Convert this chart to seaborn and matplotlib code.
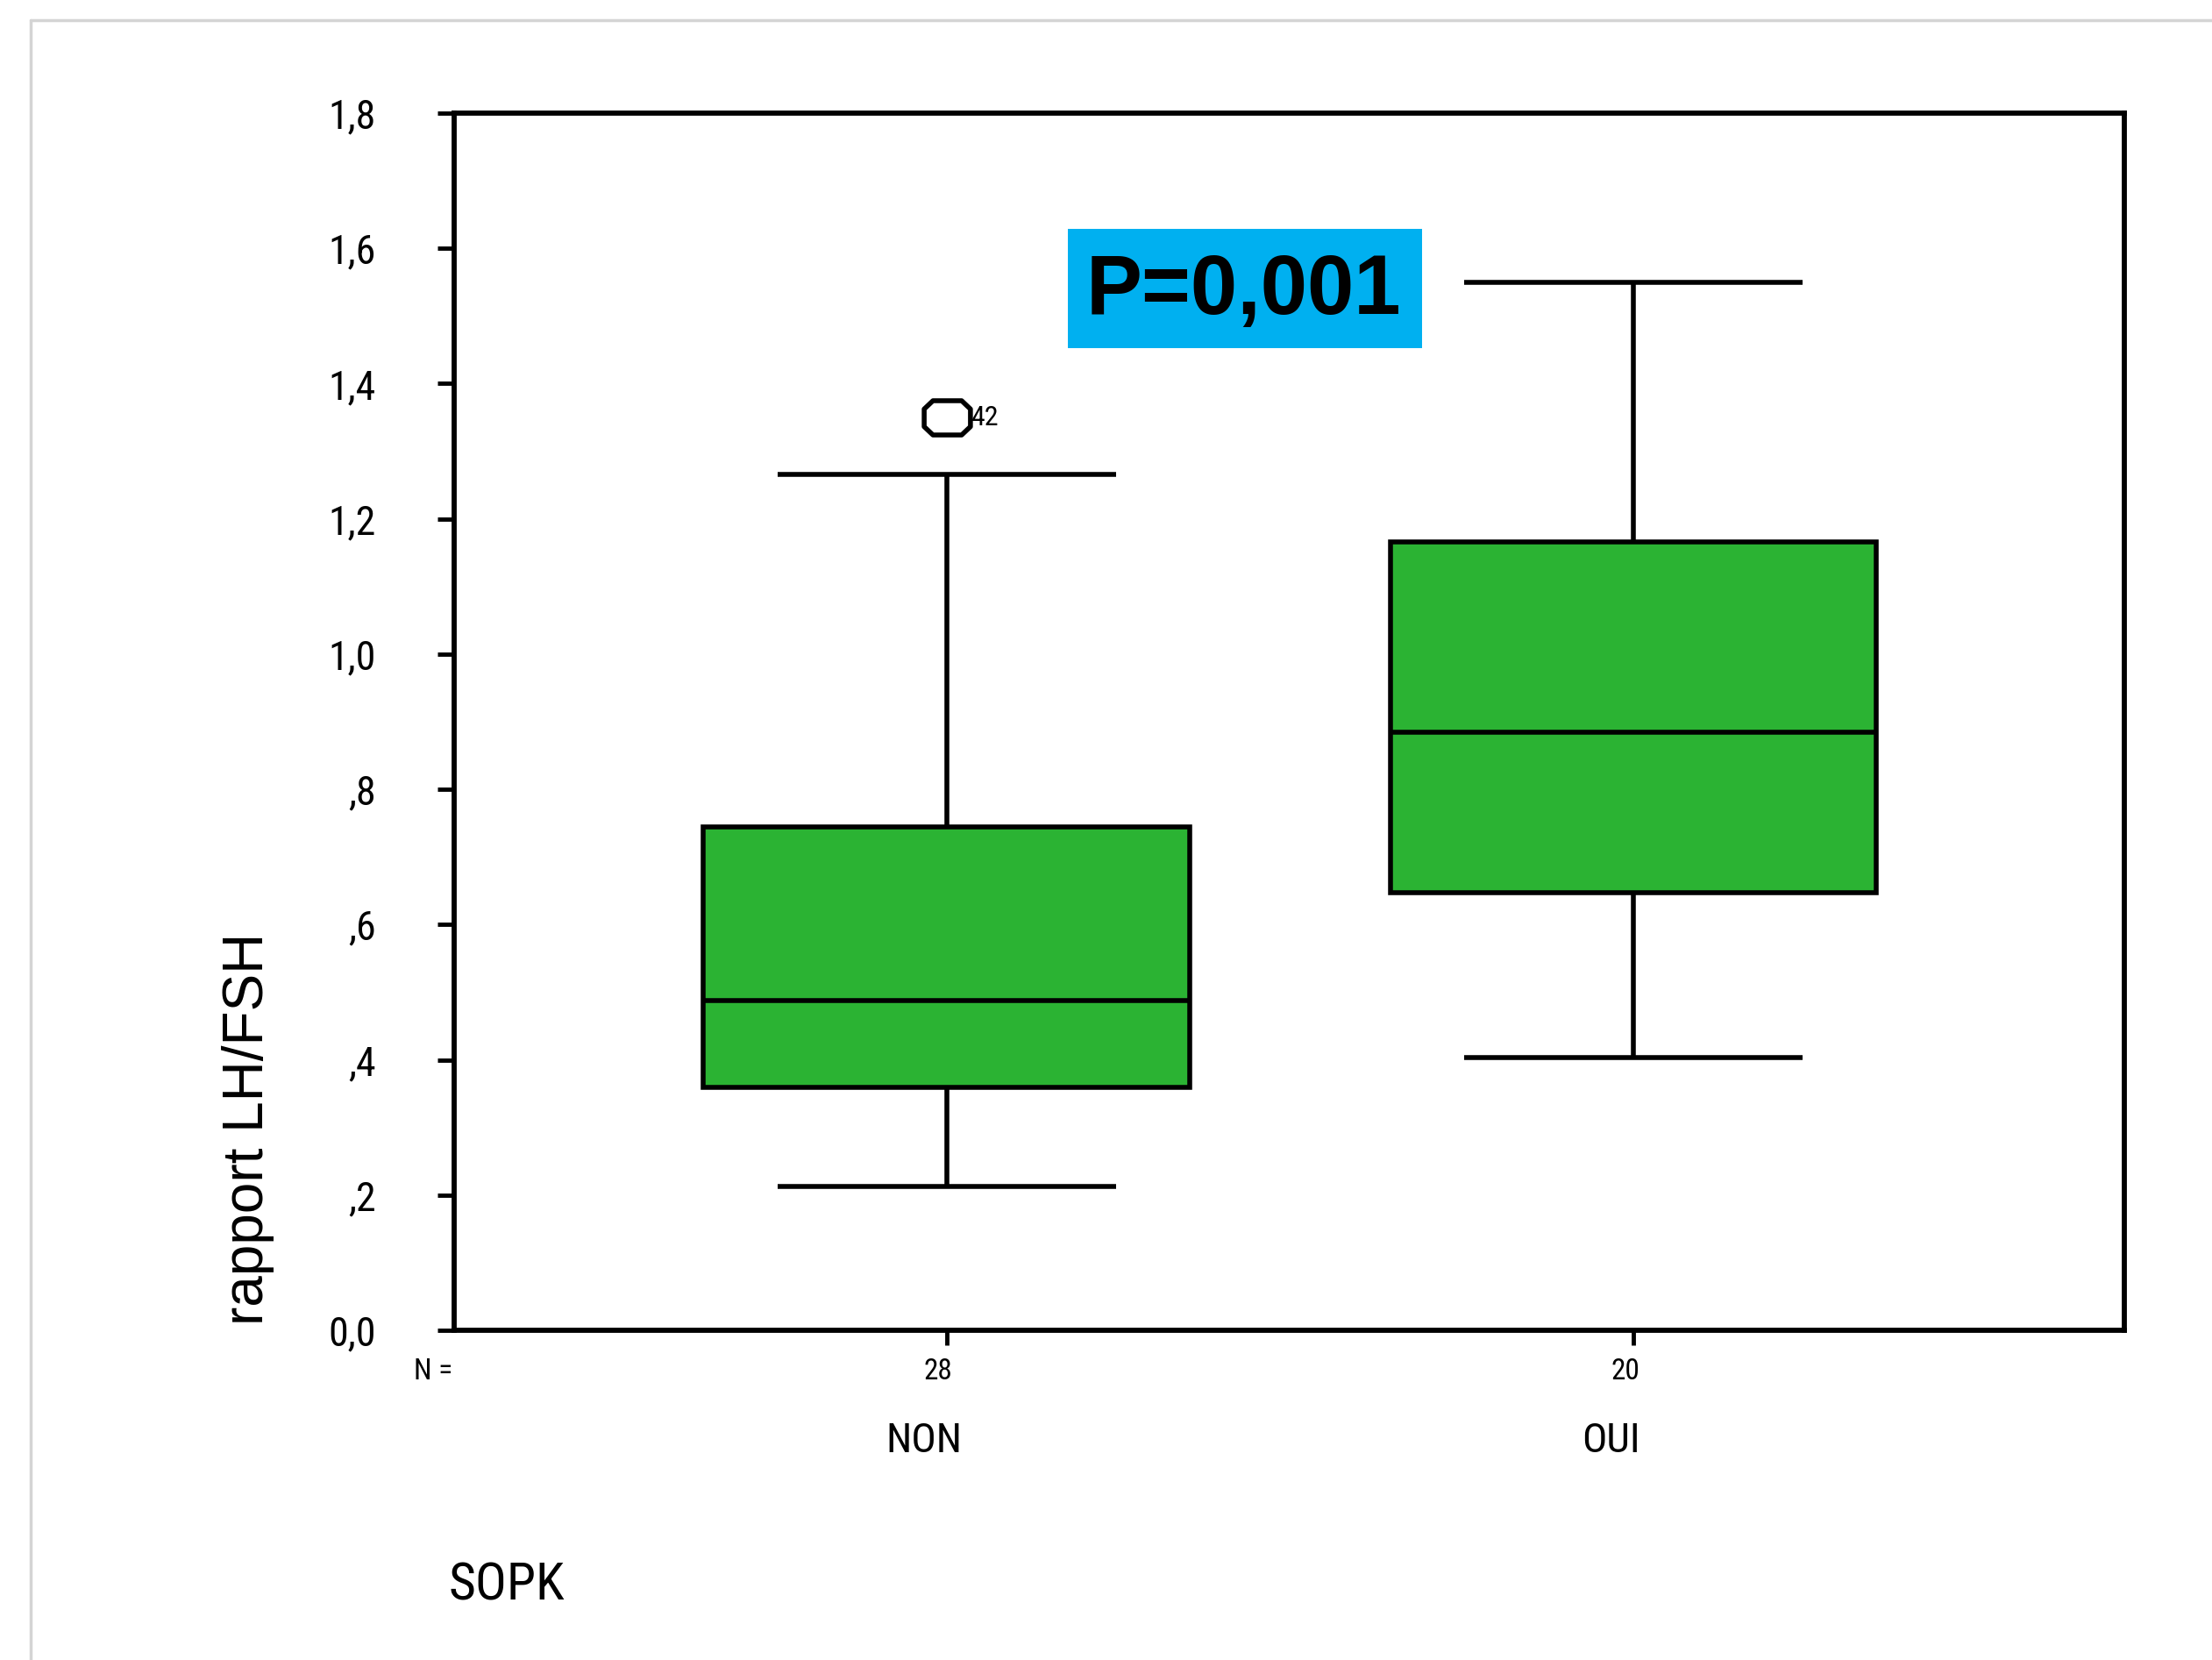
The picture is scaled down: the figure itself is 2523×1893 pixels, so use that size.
import numpy as np
import pandas as pd
import seaborn as sns
import matplotlib
matplotlib.use("Agg")
import matplotlib.pyplot as plt
from matplotlib import font_manager
from matplotlib.lines import Line2D
from matplotlib.patches import Rectangle
from matplotlib.path import Path

# ---------------- data ----------------
categories = ["NON", "OUI"]
group_n = ["28", "20"]
# five-number summaries: lower whisker, Q1, median, Q3, upper whisker
non_summary = [0.213, 0.359, 0.488, 0.745, 1.266]
oui_summary = [0.403, 0.647, 0.884, 1.166, 1.55]
non_outliers = [1.35]
outlier_label = "42"
p_text = "P=0,001"
ytick_values = [0.0, 0.2, 0.4, 0.6, 0.8, 1.0, 1.2, 1.4, 1.6, 1.8]
ytick_labels = ["0,0", ",2", ",4", ",6", ",8", "1,0", "1,2", "1,4", "1,6", "1,8"]
ylabel = "rapport LH/FSH"
xlabel = "SOPK"

def summary_values(s, outl):
    lo, q1, med, q3, hi = s
    if outl:
        vals = [lo, q1, q1, q1, med, med, q3, q3, hi] + list(outl)
    else:
        vals = [lo, q1, q1, med, med, q3, q3, q3, hi]
    return vals

non_vals = summary_values(non_summary, non_outliers)
oui_vals = summary_values(oui_summary, [])
df = pd.DataFrame({
    "SOPK": ["NON"] * len(non_vals) + ["OUI"] * len(oui_vals),
    "ratio": non_vals + oui_vals,
})

# ---------------- fonts ----------------
sns.set_style("white")
names = {f.name for f in font_manager.fontManager.ttflist}
narrow = None
for nm in ["Liberation Sans Narrow", "Arial Narrow", "Roboto Condensed",
           "Archivo Narrow"]:
    if nm in names:
        narrow = nm
        break
regular = "Liberation Sans" if "Liberation Sans" in names else "DejaVu Sans"
if narrow is None:
    narrow = regular
plt.rcParams["font.family"] = [regular, "DejaVu Sans"]
plt.rcParams["text.color"] = "black"
plt.rcParams["xtick.color"] = "black"
plt.rcParams["ytick.color"] = "black"

W, H, DPI = 2523, 1893, 100
fig = plt.figure(figsize=(W / DPI, H / DPI), dpi=DPI)
fig.patch.set_facecolor("white")

left, right, top, bottom = 518 / W, 2423 / W, 129 / H, 1517 / H
ax = fig.add_axes([left, 1 - bottom, right - left, bottom - top])

green = "#2BB333"
lw = 4.0

octo = [(-0.62, -0.74), (0.62, -0.74), (1.0, -0.38), (1.0, 0.38),
        (0.62, 0.74), (-0.62, 0.74), (-1.0, 0.38), (-1.0, -0.38), (-0.62, -0.74)]
octo_marker = Path(octo, closed=True)

sns.boxplot(
    data=df, x="SOPK", y="ratio", order=categories, ax=ax,
    color=green, width=0.708, whis=1.5, linewidth=lw, linecolor="black",
    saturation=1,
    boxprops=dict(facecolor=green, edgecolor="black", linewidth=lw),
    medianprops=dict(color="black", linewidth=lw),
    whiskerprops=dict(color="black", linewidth=lw),
    capprops=dict(color="black", linewidth=lw),
    flierprops=dict(marker=octo_marker, markersize=38, markerfacecolor="none",
                    markeredgecolor="black", markeredgewidth=4),
)

cap_half = 0.493 / 2
for ln in ax.lines:
    xd = np.asarray(ln.get_xdata(), dtype=float)
    yd = np.asarray(ln.get_ydata(), dtype=float)
    if len(xd) == 2 and yd[0] == yd[1]:
        span = abs(xd[1] - xd[0])
        if 0.3 < span < 0.4:
            c = xd.mean()
            ln.set_xdata([c - cap_half, c + cap_half])
    ln.set_solid_capstyle("butt")

ax.set_xlim(-0.717, 1.715)
ax.set_ylim(0, 1.8)
ax.set_yticks(ytick_values)
ax.set_yticklabels(ytick_labels, fontfamily=narrow, fontsize=33, color="black")
ax.set_xticks([0, 1])
ax.set_xticklabels(["", ""])
ax.set_xlabel("")
ax.set_ylabel("")
ax.tick_params(axis="y", direction="out", length=14, width=3.5, pad=50, left=True, color="black")
ax.tick_params(axis="x", direction="out", length=12, width=3.5, bottom=True, color="black")
for s in ax.spines.values():
    s.set_visible(True)
    s.set_color("black")
    s.set_linewidth(4.2)

ax.annotate(outlier_label, xy=(0, non_outliers[0]), xytext=(20, 0),
            textcoords="offset points", fontfamily=narrow, fontsize=23,
            ha="left", va="center", color="black")

xt = ax.get_xaxis_transform()
ax.text(-0.748, -0.034, "N =", transform=xt, fontfamily=narrow, fontsize=24,
        ha="center", va="center", color="black")
for i, (cat, n) in enumerate(zip(categories, group_n)):
    ax.text(i - 0.012, -0.034, n, transform=xt, fontfamily=narrow, fontsize=24,
            ha="center", va="center", color="black")
    ax.text(i - 0.033, -0.091, cat, transform=xt, fontfamily=narrow, fontsize=34,
            ha="center", va="center", color="black")

fig.text(283 / W, 1 - 1287 / H, ylabel, rotation=90, fontsize=46,
         fontfamily=regular, ha="center", va="center", color="black")
fig.text(512 / W, 1 - 1808 / H, xlabel, fontfamily=narrow, fontsize=43,
         ha="left", va="center", color="black")

bx0, by0, bx1, by1 = 1218, 261, 1622, 397
fig.add_artist(Rectangle((bx0 / W, 1 - by1 / H), (bx1 - bx0) / W, (by1 - by0) / H,
                         transform=fig.transFigure, facecolor="#00B0F0",
                         edgecolor="none", zorder=5))
fig.text(1418 / W, 1 - 333 / H, p_text, fontsize=69, fontweight="bold",
         fontfamily=regular, ha="center", va="center", zorder=6, color="black")

fig.add_artist(Line2D([35 / W, 1], [1 - 23 / H, 1 - 23 / H], transform=fig.transFigure,
                      color="#d4d4d4", linewidth=2.5))
fig.add_artist(Line2D([35 / W, 35 / W], [0, 1 - 23 / H], transform=fig.transFigure,
                      color="#d4d4d4", linewidth=2.5))

fig.savefig("out.png", dpi=DPI, facecolor="white")
